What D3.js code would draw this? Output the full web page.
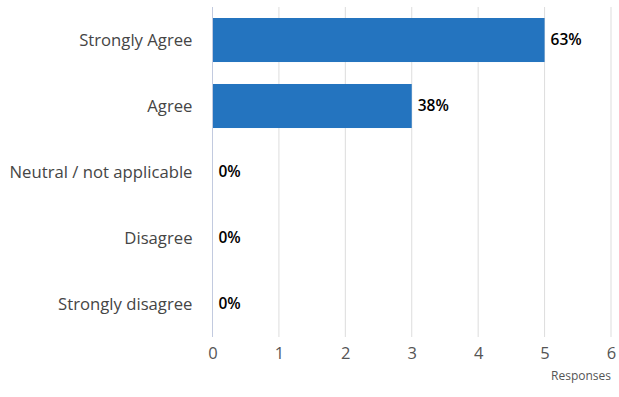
<!DOCTYPE html>
<html>
<head>
<meta charset="utf-8">
<script src="https://cdn.jsdelivr.net/npm/d3@7"></script>
<style>
  body { margin: 0; background: #fff; font-family: "Open Sans", "DejaVu Sans", sans-serif; }
</style>
</head>
<body>
<svg id="chart"></svg>
<script>
const categories = ["Strongly Agree", "Agree", "Neutral / not applicable", "Disagree", "Strongly disagree"];
const responses = [5, 3, 0, 0, 0];
const percentLabels = ["63%", "38%", "0%", "0%", "0%"];
const xTicks = [0, 1, 2, 3, 4, 5, 6];

const width = 619, height = 397;
const margin = { top: 7, right: 8, bottom: 60, left: 212.5 };
const innerW = width - margin.left - margin.right;
const innerH = height - margin.top - margin.bottom;

const data = categories.map((c, i) => ({ cat: c, value: responses[i], label: percentLabels[i] }));

const svg = d3.select("#chart").attr("width", width).attr("height", height);
const g = svg.append("g").attr("transform", `translate(${margin.left},${margin.top})`);

const x = d3.scaleLinear().domain([0, 6]).range([0, innerW]);
const y = d3.scaleBand().domain(categories).range([0, innerH])
  .paddingInner(0.333).paddingOuter(0.1667);

// grid
g.selectAll(".grid")
  .data(xTicks.slice(1))
  .join("line")
  .attr("class", "grid")
  .attr("x1", d => x(d)).attr("x2", d => x(d))
  .attr("y1", 0).attr("y2", innerH)
  .attr("stroke", "#dddddd").attr("stroke-width", 1);

// bars
g.selectAll(".bar")
  .data(data)
  .join("rect")
  .attr("class", "bar")
  .attr("x", 0)
  .attr("y", d => y(d.cat))
  .attr("width", d => x(d.value))
  .attr("height", y.bandwidth())
  .attr("fill", "#2474bf");

// left axis line
g.append("line")
  .attr("x1", 0).attr("x2", 0)
  .attr("y1", 0).attr("y2", innerH)
  .attr("stroke", "#c2cadf").attr("stroke-width", 1);

// category labels
g.selectAll(".cat")
  .data(data)
  .join("text")
  .attr("class", "cat")
  .attr("x", -20)
  .attr("y", d => y(d.cat) + y.bandwidth() / 2)
  .attr("dy", "0.35em")
  .attr("text-anchor", "end")
  .style("font-size", "16.7px")
  .style("fill", "#454545")
  .text(d => d.cat);

// value labels
g.selectAll(".val")
  .data(data)
  .join("text")
  .attr("class", "val")
  .attr("x", d => x(d.value) + 6)
  .attr("y", d => y(d.cat) + y.bandwidth() / 2)
  .attr("dy", "0.35em")
  .style("font-size", "15.5px")
  .style("font-weight", "600")
  .style("fill", "#000")
  .text(d => d.label);

// x axis
const xAxis = g.append("g")
  .attr("transform", `translate(0,${innerH})`)
  .call(d3.axisBottom(x).tickValues(xTicks).tickSize(0).tickPadding(10).tickFormat(d3.format("d")));
xAxis.select(".domain").remove();
xAxis.selectAll("text")
  .style("font-family", "\"Open Sans\", sans-serif")
  .style("font-size", "16.5px")
  .style("fill", "#555");

svg.append("text")
  .attr("x", margin.left + innerW)
  .attr("y", 380)
  .attr("text-anchor", "end")
  .style("font-size", "12px")
  .style("fill", "#555")
  .text("Responses");
</script>
</body>
</html>
